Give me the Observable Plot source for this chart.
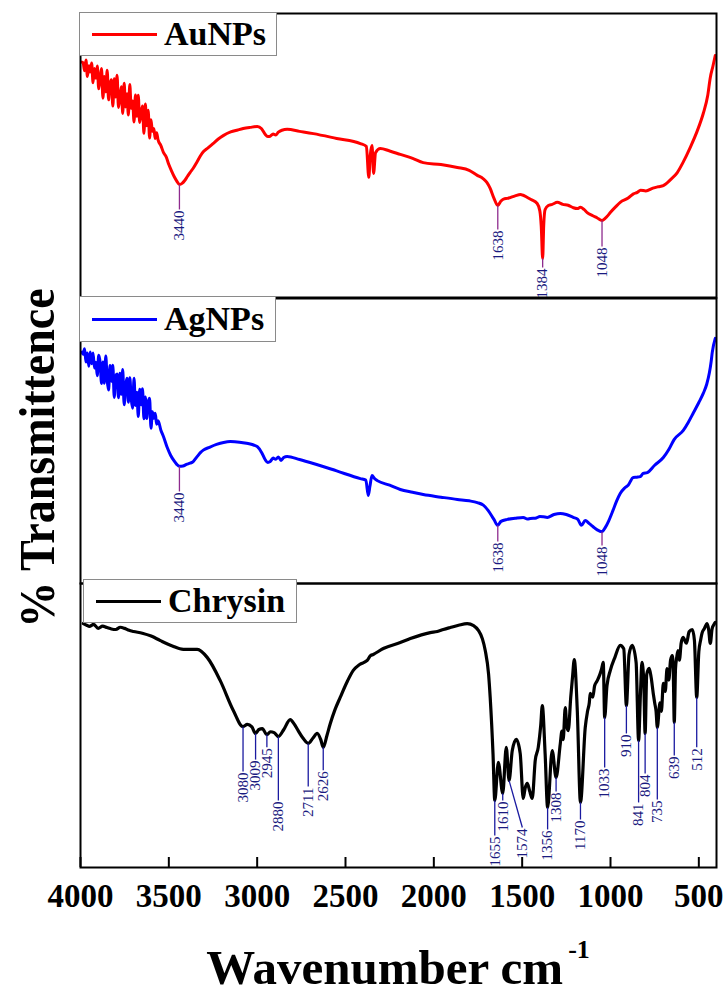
<!DOCTYPE html>
<html>
<head>
<meta charset="utf-8">
<script src="https://cdn.jsdelivr.net/npm/d3@7"></script>
<script src="https://cdn.jsdelivr.net/npm/@observablehq/plot@0.6"></script>
<style>
  body { margin: 0; background: #fff; }
  #fig { position: relative; width: 728px; height: 989px; overflow: hidden; font-family: "Liberation Serif", "Times New Roman", serif; }
  .panel { position: absolute; left: 0; }
  .legend { position: absolute; background: #fff; border: 1px solid #8a8a8a; display: flex; align-items: center; box-sizing: border-box; font-weight: bold; font-size: 34px; line-height: 1; color: #000; }
  .legend .swatch { width: 65px; height: 0; border-top: 3px solid; margin: 0 7px 0 12px; }
  #xtitle { position: absolute; left: 80px; width: 636px; top: 947px; height: 42px; text-align: center; font-weight: bold; font-size: 49px; line-height: 42px; white-space: nowrap; }
  #xtitle span { font-size: 26px; position: relative; top: -26px; margin-left: 5px; }
  #ytitle { position: absolute; left: 37px; top: 458px; transform: translate(-50%, -50%) rotate(-90deg) scaleY(1.1); white-space: nowrap; font-size: 46px; font-weight: bold; line-height: 1; }
</style>
</head>
<body>
<div id="fig"></div>
<script>
// ---- data (wavenumber cm^-1, % transmittance in per-panel relative units) ----
const xTicks = [4000, 3500, 3000, 2500, 2000, 1500, 1000, 500];

const auNPs = [
  [3992,82.9],[3985,82.6],[3977,79.8],[3969,83.6],[3961,77.8],[3953,81.6],[3945,79.4],[3937,82.6],[3929,75.6],
  [3921,80.6],[3913,77.2],[3905,81.5],[3897,73.5],[3889,77.1],[3881,80.6],[3873,70.2],[3865,77.8],[3857,72.4],
  [3849,80.0],[3841,69.6],[3833,75.1],[3825,76.7],[3817,67.4],[3809,77.0],[3801,70.6],[3793,78.3],[3785,66.9],
  [3777,70.5],[3769,74.2],[3761,64.8],[3753,75.4],[3745,67.1],[3737,71.7],[3729,64.3],[3721,75.0],[3713,66.6],
  [3705,69.2],[3697,61.8],[3689,71.3],[3681,63.8],[3673,71.2],[3665,61.6],[3657,65.0],[3649,67.4],[3641,57.8],
  [3633,68.1],[3625,60.5],[3617,65.9],[3609,56.2],[3601,62.6],[3593,58.5],[3585,59.5],[3577,56.0],[3569,58.0],
  [3561,55.5],[3545,53.5],[3530,51.0],[3515,49.5],[3500,46.8],[3485,44.6],[3470,42.6],[3455,41.0],[3440,39.8],
  [3425,40.2],[3410,41.2],[3395,42.6],[3380,44.0],[3362,45.5],[3340,47.8],[3320,50.0],[3305,51.3],[3280,52.6],
  [3250,54.2],[3220,55.8],[3192,57.0],[3150,58.3],[3110,59.0],[3079,59.5],[3040,59.9],[2999,60.2],[2975,59.4],
  [2955,57.5],[2940,56.7],[2926,56.8],[2910,57.6],[2895,57.2],[2880,58.2],[2860,58.9],[2830,59.2],[2760,58.5],
  [2682,57.7],[2550,56.0],[2416,54.2],[2382,53.2],[2368,42.3],[2360,50],[2350,53.5],[2341,43.7],[2330,51],
  [2303,52.5],[2250,51.6],[2190,50.4],[2120,49.0],[2060,47.5],[1960,46.8],[1867,45.8],[1800,44.8],[1754,43.0],
  [1720,41.8],[1700,40.5],[1681,38.4],[1660,35.0],[1638,32.4],[1620,34],[1600,34.8],[1584,34.9],[1540,35.8],
  [1510,36.3],[1494,36.0],[1470,35.2],[1450,34.5],[1415,33.1],[1400,30.5],[1392,25],[1384,13.7],[1378,25.4],
  [1370,31],[1352,32.4],[1330,32.8],[1301,33.5],[1270,32.8],[1240,32.5],[1210,31.6],[1188,31.3],[1170,31.8],
  [1150,31.0],[1132,29.9],[1100,28.8],[1075,28.0],[1048,27.1],[1020,28.5],[1000,30],[970,32.0],[945,33.5],
  [900,35],[870,36.5],[848,37.0],[830,37.8],[800,37.5],[760,38.5],[730,39.0],[701,39.4],[660,41.5],
  [622,44.0],[590,47.5],[549,52.8],[510,58.5],[475,64.8],[450,71.0],[435,77.5],[420,81.5],[407,85.2]
];

const agNPs = [
  [3992,81.2],[3985,80.4],[3977,82.4],[3969,77.7],[3961,80.9],[3953,76.2],[3945,81.2],[3937,77.1],[3929,80.9],
  [3921,75.6],[3913,77.6],[3905,72.9],[3897,80.1],[3889,77.6],[3881,70.2],[3873,77.7],[3865,70.3],[3857,79.8],
  [3849,71.4],[3841,67.9],[3833,76.5],[3825,71.0],[3817,76.6],[3809,65.3],[3801,72.9],[3793,73.5],[3785,65.2],
  [3777,73.8],[3769,66.4],[3761,75.1],[3753,62.7],[3745,69.3],[3737,72.0],[3729,63.6],[3721,72.2],[3713,64.9],
  [3705,61.5],[3697,72.0],[3689,62.5],[3681,67.1],[3673,58.6],[3665,68.2],[3657,62.7],[3649,68.3],[3641,57.8],
  [3633,65.4],[3625,57.9],[3617,63.5],[3609,65.0],[3601,54.5],[3593,60.3],[3585,58.0],[3577,59.7],[3569,55.9],
  [3561,57.1],[3545,53.8],[3530,51.5],[3509,47.7],[3490,45.0],[3470,43.0],[3455,41.8],[3440,41.1],[3420,41.2],
  [3400,41.8],[3380,42.2],[3362,42.8],[3340,44.5],[3320,46.0],[3305,46.8],[3270,47.8],[3230,48.8],[3190,49.5],
  [3152,49.8],[3100,49.6],[3060,49.2],[3020,48.6],[2999,48.0],[2975,46.0],[2955,43.5],[2940,42.5],[2926,42.8],
  [2910,44.0],[2895,43.6],[2880,44.4],[2865,43.2],[2850,44.2],[2830,44.6],[2760,43.5],[2682,42.1],[2550,39.5],
  [2416,36.8],[2385,36.3],[2371,30.9],[2362,34],[2350,37.9],[2335,36.8],[2320,36.1],[2250,34.5],[2190,33.0],
  [2120,32.0],[2060,31.2],[1960,30.3],[1867,29.5],[1800,29.0],[1754,28.4],[1720,27.5],[1692,25.6],[1660,22.5],
  [1638,20.4],[1620,21.8],[1584,22.5],[1540,22.9],[1494,23.2],[1470,22.6],[1454,22.8],[1420,23.0],[1400,23.5],
  [1380,23.4],[1358,23.2],[1320,24.2],[1284,24.6],[1250,24.2],[1211,23.2],[1185,22.5],[1165,20.4],[1143,22.1],
  [1120,21.0],[1100,20.0],[1075,18.8],[1048,18.2],[1030,19.6],[1010,22],[990,25],[965,29],[945,31.6],
  [920,33.5],[900,34.5],[871,37.2],[850,37.3],[832,37.5],[815,38.6],[792,38.9],[750,41.5],[701,44.2],
  [670,47.0],[640,50.5],[588,53.7],[560,56.5],[530,60],[500,63.5],[475,66.7],[455,70.0],[440,74],
  [430,78.0],[424,81.1],[407,86.0]
];

const chrysin = [
  [3984,85.9],[3965,85.3],[3950,84.9],[3925,85.6],[3900,84.2],[3875,85],[3850,84.5],[3825,84],
  [3800,83.8],[3775,84.6],[3750,84.2],[3725,83.5],[3700,83.1],[3650,82.5],[3600,81.5],[3548,79.9],
  [3480,78],[3418,76.8],[3339,76.8],[3282,73.9],[3209,65.8],[3135,55.3],[3080,49.6],[3056,50.4],
  [3030,49.5],[3009,47.2],[2990,48.6],[2971,48.9],[2945,46.8],[2925,47.8],[2904,47.5],[2880,46.1],[2850,48.5],
  [2813,52.1],[2790,50.5],[2768,48.2],[2740,45.5],[2711,43.7],[2685,45.5],[2660,47.2],[2640,45],[2626,42.3],
  [2605,46.5],[2586,50.7],[2560,55.5],[2530,59.9],[2490,65.5],[2456,69.4],[2420,71.5],[2377,72.9],[2360,74.5],
  [2343,75.0],[2286,77.1],[2190,79.2],[2133,80.6],[2020,82.7],[1980,83.1],[1946,83.8],[1907,84.5],[1860,85.3],
  [1811,85.9],[1775,85.2],[1748,83.5],[1725,80.5],[1709,76.4],[1690,68],[1681,59.9],[1665,40],[1655,23.6],[1635,37.0],
  [1610,26.1],[1590,42.3],[1574,30.6],[1556,41.2],[1533,45.1],[1511,40.1],[1494,24.3],[1483,28],[1471,29.6],
  [1458,27],[1443,24.3],[1426,37.7],[1409,42.3],[1395,50],[1386,57.0],[1370,40],[1356,21.1],[1330,41.2],[1308,31.7],
  [1284,43.7],[1275,48],[1268,45],[1256,56.3],[1248,50],[1239,48.2],[1225,60],[1215,67],[1205,73.2],[1188,55.3],
  [1170,22.9],[1143,49.3],[1130,55],[1120,58],[1115,61.3],[1100,60],[1090,64],[1075,65.8],[1060,68],[1050,70],
  [1041,72.2],[1033,52.8],[1020,64],[1001,69.4],[975,74],[945,78.2],[925,77],[910,57.0],[895,75],[877,78.2],
  [855,72.2],[841,44.7],[830,62],[822,72.2],[812,66],[804,47.2],[795,68],[781,70.1],[770,67],[758,61.3],
  [750,58],[742,55],[735,49.3],[720,58],[712,55],[701,64.8],[690,62],[680,70],[670,66],[660,73],
  [650,74.6],[645,70],[639,51.1],[632,70],[625,74],[618,76.4],[610,73],[600,79],[589,81.0],[570,79],
  [555,83],[537,83.8],[525,80],[512,59.9],[500,76],[490,80],[481,82.7],[470,84],[453,85.9],[445,84],
  [435,78.9],[425,84],[415,85.5],[407,86.3]
];

// peak annotations: [wavenumber, T at peak, T at label, (optional label wavenumber)]
const auPeaks = [[3440,39.8,31.0],[1638,32.4,23.9],[1384,13.7,10.6],[1048,27.1,18.0]];
const agPeaks = [[3440,41.1,32.3],[1638,20.4,14.7],[1048,18.2,13.3]];
const chPeaks = [
  [3080,49.6,33.8],[3009,47.2,38.0],[2945,46.8,42.3],[2880,46.1,23.6],[2711,43.7,28.5],[2626,42.3,34.2],
  [1655,23.6,11.3],[1610,26.1,23.6],[1574,30.6,14.1,1499],[1356,21.1,13.4],[1308,31.7,26.8],[1170,22.9,16.9],
  [1033,52.8,35.2],[910,57.0,47.2],[841,44.7,22.9],[804,47.2,33.1],[735,49.3,23.9],[639,51.1,39.4],[512,59.9,42.3]
];

const seriesNames = ["AuNPs", "AgNPs", "Chrysin"];
const seriesColors = ["#ff0000", "#0000ff", "#000000"];

// ---- drawing ----
const SERIF = "Liberation Serif, Times New Roman, serif";
const fig = document.getElementById("fig");

function panel({data, peaks, color, lineWidth, leader, top, height, mb, axis}) {
  const frameH = height - 2 - mb;
  const marks = [
    Plot.line(data, {x: d => d[0], y: d => d[1], stroke: color, strokeWidth: lineWidth, curve: "monotone-x",
      strokeLinejoin: "round", strokeLinecap: "round"}),
    Plot.link(peaks, {x1: d => d[0], y1: d => d[1], x2: d => d[3] ?? d[0], y2: d => d[2], stroke: leader, strokeWidth: 1.3}),
    Plot.text(peaks, {x: d => d[3] ?? d[0], y: d => d[2], text: d => String(d[0]), rotate: -90, textAnchor: "end", dy: 1,
      fill: "#1a1a80", fontSize: 15, fontFamily: SERIF}),
    Plot.frame({stroke: "black", strokeWidth: 2})
  ];
  if (axis) {
    marks.push(
      Plot.ruleX(xTicks, {x: d => d, insetTop: frameH - 10, stroke: "black", strokeWidth: 2}),
      Plot.axisX(xTicks, {tickSize: 0, tickPadding: 16, fontSize: 33, fontWeight: "bold", fontFamily: SERIF, fill: "black",
        tickFormat: d => String(d)})
    );
  }
  const svg = Plot.plot({
    width: 728, height, marginLeft: 80, marginRight: 12, marginTop: 2, marginBottom: mb,
    x: {domain: [4000, 400], axis: axis ? undefined : null},
    y: {domain: [0, 100], axis: null},
    style: {background: "transparent", overflow: "visible"},
    marks
  });
  svg.classList.add("panel");
  svg.style.top = top + "px";
  fig.appendChild(svg);
}

panel({data: auNPs, peaks: auPeaks, color: seriesColors[0], lineWidth: 3, leader: "#8e2b8e", top: 11, height: 288, mb: 2});
panel({data: agNPs, peaks: agPeaks, color: seriesColors[1], lineWidth: 3, leader: "#8e2b8e", top: 296, height: 289, mb: 2});
panel({data: chrysin, peaks: chPeaks, color: seriesColors[2], lineWidth: 3.2, leader: "#1a1aa0", top: 581, height: 360, mb: 74, axis: true});

// legends
const legendBoxes = [
  {left: 79, top: 12, width: 198, height: 44},
  {left: 79, top: 296, width: 197, height: 46},
  {left: 83, top: 579, width: 214, height: 44}
];
legendBoxes.forEach((b, i) => {
  const div = document.createElement("div");
  div.className = "legend";
  Object.assign(div.style, {left: b.left + "px", top: b.top + "px", width: b.width + "px", height: b.height + "px"});
  const sw = document.createElement("div");
  sw.className = "swatch";
  sw.style.borderTopColor = seriesColors[i];
  const tx = document.createElement("span");
  tx.textContent = seriesNames[i];
  div.appendChild(sw); div.appendChild(tx);
  fig.appendChild(div);
});

// axis titles
const xt = document.createElement("div");
xt.id = "xtitle";
xt.innerHTML = "Wavenumber cm<span>-1</span>";
fig.appendChild(xt);
const yt = document.createElement("div");
yt.id = "ytitle";
yt.textContent = "% Transmittence";
fig.appendChild(yt);
</script>
</body>
</html>
